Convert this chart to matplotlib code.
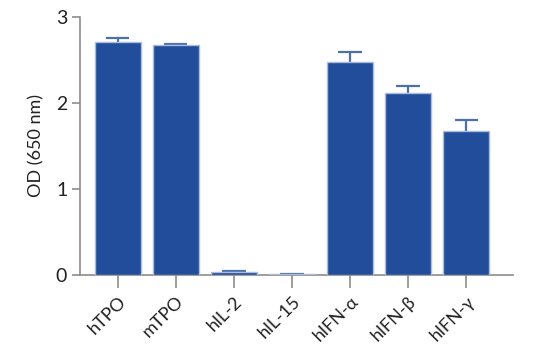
import matplotlib
matplotlib.use("Agg")
import matplotlib.pyplot as plt
import numpy as np

plt.rcParams['font.family'] = ['Lato', 'DejaVu Sans']

# data
samples = ["hTPO", "mTPO", "hIL-2", "hIL-15", "hIFN-α", "hIFN-β", "hIFN-γ"]
od_mean = [2.71, 2.67, 0.03, 0.008, 2.48, 2.12, 1.67]
od_err = [0.05, 0.02, 0.013, 0.007, 0.11, 0.08, 0.13]

bar_color = "#214d9a"
edge_color = "#a9bcdf"
err_color = "#4d6fae"
spine_color = "#8c8c8c"
text_color = "#222222"

fig = plt.figure(figsize=(5.5, 3.6), dpi=100)
ax = fig.add_axes([0.145, 0.236, 0.788, 0.717])

x = np.arange(len(samples))
mean = np.array(od_mean)
top = mean + np.array(od_err)
ax.bar(x, mean, width=0.79, color=bar_color, edgecolor=edge_color, linewidth=1.0, zorder=3)
# upper error bars only
ax.vlines(x, mean, top, color=err_color, linewidth=1.6, zorder=2)
ax.hlines(top, x - 0.2, x + 0.2, color=err_color, linewidth=1.6, zorder=2)

ax.set_xlim(-0.655, 6.81)
ax.set_ylim(0, 3)
ax.set_yticks([0, 1, 2, 3])
ax.set_xticks(x)
ax.set_xticklabels(samples, rotation=45, ha="right", rotation_mode="anchor", fontsize=13, color=text_color)
ax.tick_params(axis="y", labelsize=14, length=6, width=1.2, color=spine_color, labelcolor=text_color, pad=3)
ax.tick_params(axis="x", length=9, width=1.2, color=spine_color, pad=4)
ax.set_ylabel("OD (650 nm)", fontsize=13, color=text_color, labelpad=8)

for side in ["top", "right"]:
    ax.spines[side].set_visible(False)
for side in ["left", "bottom"]:
    ax.spines[side].set_color(spine_color)
    ax.spines[side].set_linewidth(1.2)

fig.savefig("out.png", dpi=100)
